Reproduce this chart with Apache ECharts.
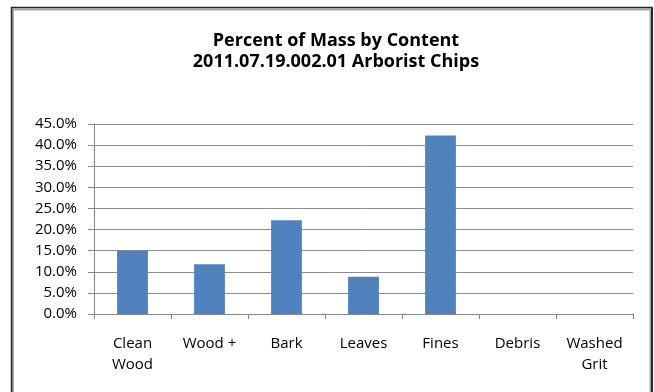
<!DOCTYPE html>
<html>
<head>
<meta charset="utf-8">
<script src="https://cdn.jsdelivr.net/npm/echarts@6/dist/echarts.min.js"></script>
<style>
html,body{margin:0;padding:0;background:#fff;}
#c{width:654px;height:392px;}
</style>
</head>
<body>
<div id="c"></div>
<script>
var titleLines = ['Percent of Mass by Content', '2011.07.19.002.01 Arborist Chips'];
var categories = ['Clean\nWood', 'Wood +', 'Bark', 'Leaves', 'Fines', 'Debris', 'Washed\nGrit'];
var values = [15.0, 11.8, 22.2, 8.8, 42.3, 0, 0];
var yMin = 0, yMax = 45, yStep = 5;

var chart = echarts.init(document.getElementById('c'), null, {renderer: 'canvas'});
chart.setOption({
  animation: false,
  backgroundColor: '#ffffff',
  textStyle: {fontFamily: 'Open Sans'},
  title: {
    text: titleLines.join('\n'),
    left: 331, top: 25, textAlign: 'center',
    textStyle: {fontFamily: 'Open Sans', fontWeight: 'bold', fontSize: 18, lineHeight: 21, color: '#000'}
  },
  graphic: [{
    type: 'rect', z: 100, silent: true,
    shape: {x: 13, y: 9.5, width: 637.5, height: 400},
    style: {fill: 'none', stroke: '#a6a6a6', lineWidth: 2}
  }, {
    type: 'rect', z: 101, silent: true,
    shape: {x: 11.5, y: 7.5, width: 640.5, height: 400},
    style: {fill: 'none', stroke: '#262626', lineWidth: 1.5}
  }, {
    type: 'rect', z: 101, silent: true,
    shape: {x: 651, y: 8, width: 2, height: 390},
    style: {fill: '#262626'}
  }],
  grid: {left: 94, right: 21, top: 124, bottom: 78, containLabel: false},
  xAxis: {
    type: 'category', data: categories,
    axisLine: {lineStyle: {color: '#868686', width: 1}},
    axisTick: {show: true, length: 5, lineStyle: {color: '#868686'}},
    axisLabel: {color: '#000', fontSize: 15, lineHeight: 21, margin: 19, interval: 0}
  },
  yAxis: {
    type: 'value', min: yMin, max: yMax, interval: yStep,
    axisLine: {show: true, lineStyle: {color: '#868686', width: 1}},
    axisTick: {show: true, length: 6, lineStyle: {color: '#868686'}},
    splitLine: {show: true, lineStyle: {color: '#8c8c8c', width: 1}},
    axisLabel: {color: '#000', fontSize: 15, margin: 17, formatter: function(v){return v.toFixed(1) + '%';}}
  },
  series: [{
    type: 'bar', data: values, barCategoryGap: '60%',
    itemStyle: {color: '#4f81bd'}
  }]
});
</script>
</body>
</html>
